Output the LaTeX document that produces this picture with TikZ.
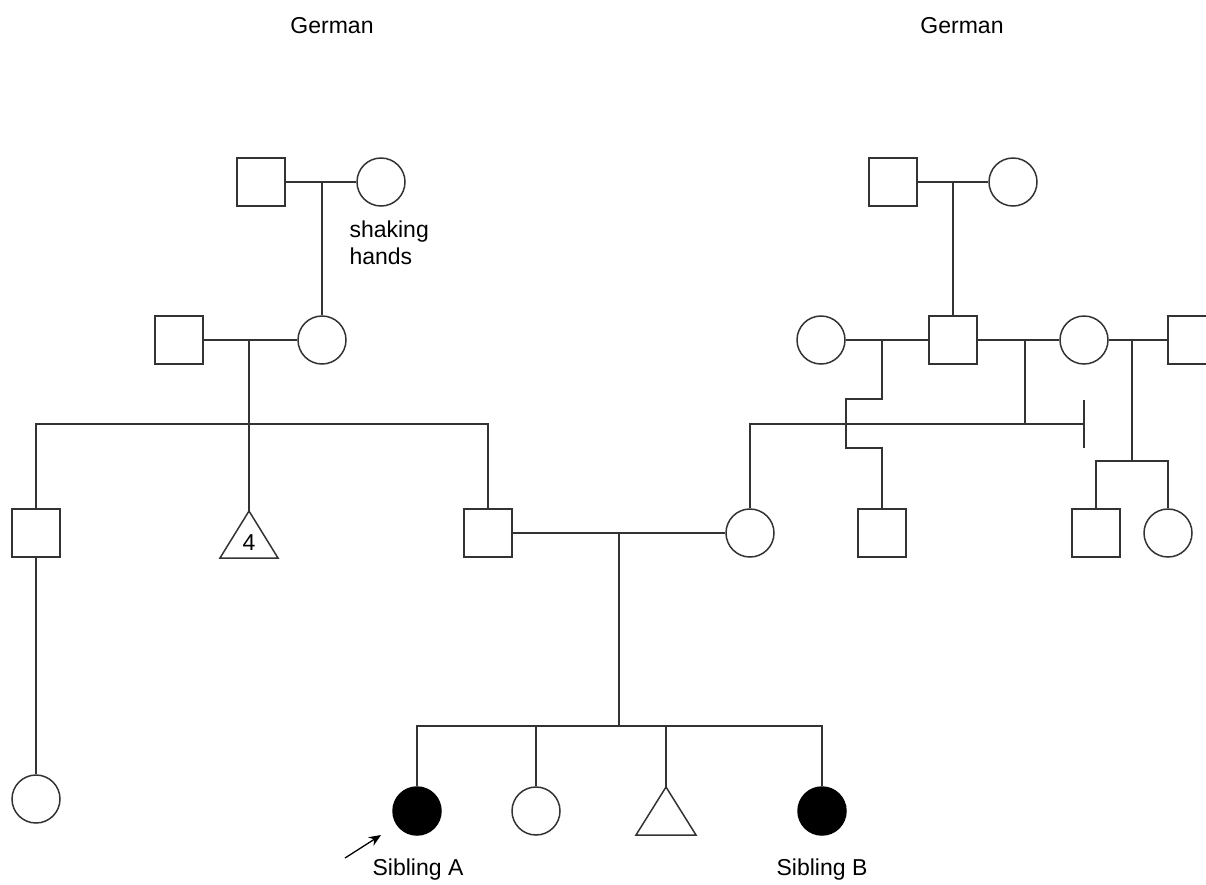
\documentclass[tikz,border=0pt]{standalone}
\usepackage{fontspec}
\setmainfont{Liberation Sans}
\usetikzlibrary{arrows.meta}
\begin{document}
\begin{tikzpicture}[x=1pt,y=-1pt,
  ln/.style={draw=black!80,line width=1.5pt},
  male/.style={ln,rectangle,minimum size=48pt,inner sep=0pt,fill=white},
  fem/.style={ln,circle,minimum size=48pt,inner sep=0pt,fill=white},
  aff/.style={fem,fill=black,draw=black},
  lbl/.style={font=\fontsize{23}{27}\selectfont,text=black}]
\useasboundingbox (0,0) rectangle (1206,884);
\clip (0,0) rectangle (1206,884);
% labels
\node[lbl] (g1) at (332,26) {German};
\node[lbl] (g2) at (962,26) {German};
% left top couple
\node[male] (lgf) at (261,182) {};
\node[fem] (lgm) at (381,182) {};
\node[lbl,anchor=north west,align=left] (sh) at (346,217) {shaking\\hands};
\node[male] (lf) at (179,340) {};
\node[fem] (lm) at (322,340) {};
\draw[ln] (lgf) -- (lgm);
\draw[ln] (322,182) -- (lm);
\draw[ln] (lf) -- (lm);
% gen 3 left
\node[male] (u1) at (36,533) {};
\coordinate (t4) at (249,511);
\draw[ln] (t4) -- ++(-29,47) -- ++(58,0) -- cycle;
\node[lbl] (n4) at (249,543) {4};
\node[male] (fa) at (488,533) {};
\node[fem] (mo) at (750,533) {};
\draw[ln] (249,340) -- (249,424);
\draw[ln] (u1) |- (488,424) -- (fa);
\draw[ln] (249,424) -- (t4);
\node[fem] (c1) at (36,799) {};
\draw[ln] (u1) -- (c1);
% parents
\draw[ln] (fa) -- (mo);
\draw[ln] (619,533) -- (619,726);
% siblings
\node[aff] (sa) at (417,811) {};
\node[fem] (s2) at (536,811) {};
\coordinate (tb) at (666,787);
\draw[ln] (tb) -- ++(-30,48) -- ++(60,0) -- cycle;
\node[aff] (sb) at (822,811) {};
\draw[ln] (sa) |- (822,726) -- (sb);
\draw[ln] (536,726) -- (s2);
\draw[ln] (666,726) -- (tb);
\node[lbl] (la) at (418,870) {Sibling A};
\node[lbl] (lb) at (822,870) {Sibling B};
\coordinate (arS) at (345,858);
\coordinate (arE) at (381,835);
\draw[line width=1.3pt,-{Stealth[length=12pt,width=10pt]}] (arS) -- (arE);
% right side
\node[male] (rgf) at (893,182) {};
\node[fem] (rgm) at (1013,182) {};
\draw[ln] (rgf) -- (rgm);
\node[male] (rf) at (953,340) {};
\draw[ln] (953,182) -- (rf);
\node[fem] (w1) at (821,340) {};
\node[fem] (w2) at (1084,340) {};
\node[male] (w3) at (1192,340) {};
\draw[ln] (w1) -- (rf);
\draw[ln] (rf) -- (w2);
\draw[ln] (w2) -- (w3);
\node[male] (r1) at (882,533) {};
\draw[ln] (882,340) -- (882,399) -- (846,399) -- (846,448) -- (882,448) -- (r1);
\draw[ln] (mo.north) -- (750,424) -- (1084,424);
\draw[ln] (1025,340) -- (1025,424);
\draw[ln] (1084,400) -- (1084,448);
\node[male] (r2) at (1096,533) {};
\node[fem] (r3) at (1168,533) {};
\draw[ln] (1132,340) -- (1132,461);
\draw[ln] (r2) |- (1168,461) -- (r3);
\end{tikzpicture}
\end{document}
